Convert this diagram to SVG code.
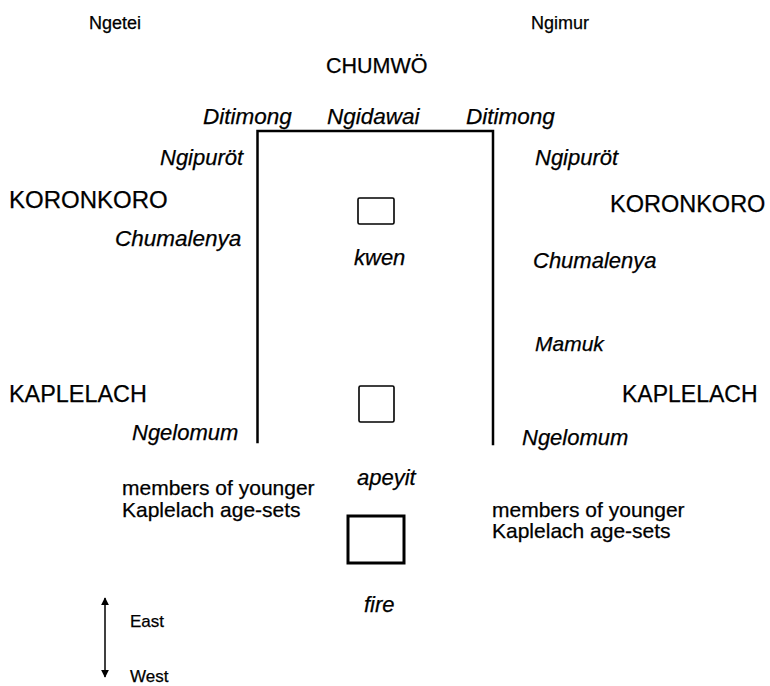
<svg xmlns="http://www.w3.org/2000/svg" width="770" height="686" viewBox="0 0 770 686">
<style>
text{font-family:"Liberation Sans",Arial,Helvetica,sans-serif;fill:#000;stroke:#000;stroke-width:0.25}
.i{font-style:italic}
.sm{font-size:18px}
.md{font-size:22px}
.lg{font-size:23.5px}
.ln{stroke:#000;stroke-width:2.5;fill:none;stroke-linecap:square}
.box{stroke:#000;stroke-width:1.6;fill:none}
</style>
<defs>
<marker id="ah" viewBox="0 0 10 10" refX="9" refY="5" markerWidth="8" markerHeight="8" orient="auto" markerUnits="userSpaceOnUse">
<path d="M0,0 L10,5 L0,10 z" fill="#000"/>
</marker>
</defs>
<rect width="770" height="686" fill="#fff"/>
<g id="connectors">
<path class="ln" d="M257.5,442 L257.5,131 L493,131 L493,444"/>
<line x1="105" y1="638" x2="105" y2="598" stroke="#000" stroke-width="1.5" marker-end="url(#ah)"/>
<line x1="105" y1="638" x2="105" y2="677" stroke="#000" stroke-width="1.5" marker-end="url(#ah)"/>
</g>
<g id="labels-top">
<text id="ngetei" class="sm" x="89" y="29">Ngetei</text>
<text id="ngimur" class="sm" x="531" y="29">Ngimur</text>
<text id="chumwo" x="326" y="73" font-size="21.5">CHUMWÖ</text>
<text id="ditimong-l" class="i" x="203" y="124" font-size="22.5">Ditimong</text>
<text id="ngidawai" class="i" x="327" y="124" font-size="22.5">Ngidawai</text>
<text id="ditimong-r" class="i" x="466" y="124" font-size="22.5">Ditimong</text>
</g>
<g id="left-side">
<text class="i md" x="160" y="165">Ngipuröt</text>
<text x="9" y="208" font-size="24">KORONKORO</text>
<text class="i" x="115" y="246" font-size="22.5">Chumalenya</text>
<text x="9" y="402" font-size="23.4">KAPLELACH</text>
<text class="i md" x="132" y="440">Ngelomum</text>
<text x="122" y="495" font-size="21">members of younger</text>
<text x="122" y="517" font-size="21">Kaplelach age-sets</text>
</g>
<g id="right-side">
<text class="i md" x="535" y="165">Ngipuröt</text>
<text class="lg" x="610" y="212">KORONKORO</text>
<text class="i md" x="533" y="268">Chumalenya</text>
<text class="i" x="535" y="351" font-size="21">Mamuk</text>
<text x="622" y="402" font-size="23">KAPLELACH</text>
<text class="i md" x="522" y="445">Ngelomum</text>
<text x="492" y="517" font-size="21">members of younger</text>
<text x="492" y="538" font-size="21">Kaplelach age-sets</text>
</g>
<g id="kwen">
<rect class="box" x="358" y="198" width="36" height="26" rx="1.5"/>
<text class="i md" x="354" y="265">kwen</text>
</g>
<g id="apeyit">
<rect class="box" x="359" y="386" width="35" height="36" rx="1.5"/>
<text class="i md" x="357" y="485">apeyit</text>
</g>
<g id="fire">
<rect x="348" y="516" width="56" height="47" fill="none" stroke="#000" stroke-width="3"/>
<text class="i md" x="364" y="612">fire</text>
</g>
<g id="compass">
<text x="130" y="627" font-size="17">East</text>
<text x="130" y="682" font-size="17">West</text>
</g>
</svg>
